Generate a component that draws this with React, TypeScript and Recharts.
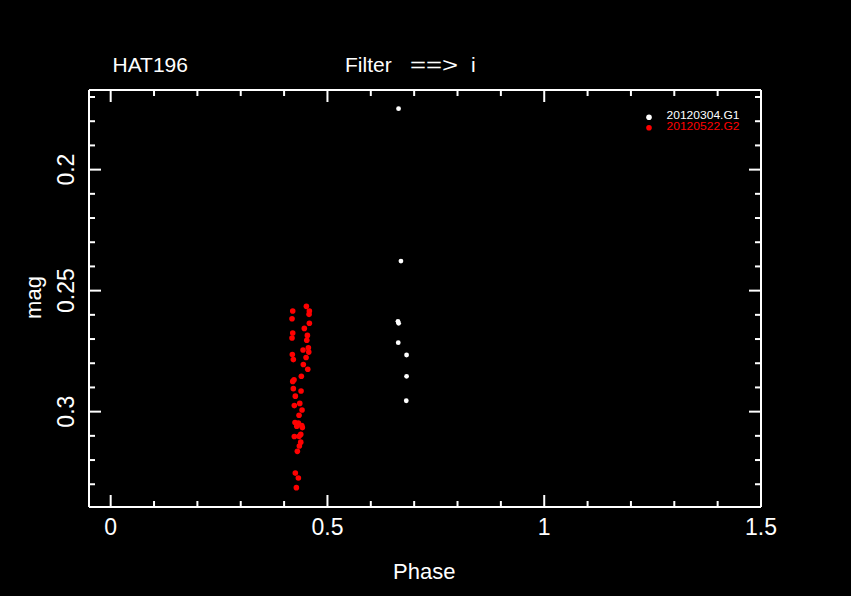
import { ScatterChart, Scatter, XAxis, YAxis, Legend } from "recharts";

// light curve points
const whitePhase = [0.664, 0.6695, 0.6626, 0.6642, 0.6633, 0.6825, 0.6825, 0.6818];
const whiteMag = [0.1748, 0.2378, 0.2627, 0.2635, 0.2715, 0.2766, 0.2854, 0.2955];

const redPhase = [
  0.4514, 0.4199, 0.4583, 0.4576, 0.4183, 0.4583, 0.4467, 0.4199, 0.4537, 0.4183,
  0.4523, 0.456, 0.4437, 0.4569, 0.419, 0.4507, 0.4213, 0.4444, 0.4546, 0.4398,
  0.4229, 0.4199, 0.4213, 0.4391, 0.4259, 0.4361, 0.4236, 0.4414, 0.4345, 0.4252,
  0.4329, 0.4292, 0.4407, 0.4421, 0.4384, 0.4236, 0.4345, 0.4384, 0.4352, 0.4306,
  0.4259, 0.4329, 0.4283,
];
const redMag = [
  0.2565, 0.2584, 0.2584, 0.2598, 0.2616, 0.2635, 0.2656, 0.2675, 0.2685, 0.2696,
  0.2705, 0.2736, 0.2745, 0.2754, 0.2764, 0.2776, 0.2785, 0.2805, 0.2825, 0.2854,
  0.2868, 0.2875, 0.2905, 0.2915, 0.2936, 0.2966, 0.2975, 0.2993, 0.3015, 0.3045,
  0.3047, 0.306, 0.3057, 0.3066, 0.3094, 0.3103, 0.3102, 0.3126, 0.3142, 0.3164,
  0.3254, 0.3274, 0.3314,
];

const xTicks = [0, 0.1, 0.2, 0.3, 0.4, 0.5, 0.6, 0.7, 0.8, 0.9, 1, 1.1, 1.2, 1.3, 1.4, 1.5];
const yTicks = [
  0.17, 0.18, 0.19, 0.2, 0.21, 0.22, 0.23, 0.24, 0.25, 0.26, 0.27, 0.28, 0.29, 0.3, 0.31,
  0.32, 0.33,
];
const seriesNames = ["20120304.G1", "20120522.G2"];
const seriesColors = ["#ffffff", "#ff0000"];

const whiteData = whitePhase.map((x, i) => ({ x, y: whiteMag[i] }));
const redData = redPhase.map((x, i) => ({ x, y: redMag[i] }));

const FONT = "'Liberation Sans', Arial, sans-serif";

const isMajorX = (v: number) => Math.abs(v * 2 - Math.round(v * 2)) < 1e-6;
const isMajorY = (v: number) => Math.abs(v * 20 - Math.round(v * 20)) < 1e-6;

function BottomTick({ x, y, payload }: any) {
  const major = isMajorX(payload.value);
  return (
    <g>
      <line x1={x} x2={x} y1={y} y2={y - (major ? 12 : 6)} stroke="#fff" strokeWidth={2} />
      {major && (
        <text x={x} y={y + 28} fill="#fff" fontSize={23} fontFamily={FONT} textAnchor="middle">
          {String(payload.value)}
        </text>
      )}
    </g>
  );
}

function TopTick({ x, y, payload }: any) {
  const major = isMajorX(payload.value);
  return <line x1={x} x2={x} y1={y} y2={y + (major ? 12 : 6)} stroke="#fff" strokeWidth={2} />;
}

function LeftTick({ x, y, payload }: any) {
  const major = isMajorY(payload.value);
  const lx = x - 14.5;
  return (
    <g>
      <line x1={x} x2={x + (major ? 12 : 6)} y1={y} y2={y} stroke="#fff" strokeWidth={2} />
      {major && (
        <text
          x={lx}
          y={y}
          fill="#fff"
          fontSize={23}
          fontFamily={FONT}
          textAnchor="middle"
          transform={`rotate(-90, ${lx}, ${y})`}
        >
          {String(payload.value)}
        </text>
      )}
    </g>
  );
}

function RightTick({ x, y, payload }: any) {
  const major = isMajorY(payload.value);
  return <line x1={x} x2={x - (major ? 12 : 6)} y1={y} y2={y} stroke="#fff" strokeWidth={2} />;
}

const dot = (color: string, r: number) => (props: any) =>
  <circle cx={props.cx} cy={props.cy} r={r} fill={color} />;

function LegendBox() {
  return (
    <svg width={120} height={28}>
      {seriesNames.map((name, i) => (
        <g key={name}>
          <circle cx={9} cy={9.3 + i * 10.4} r={2.8} fill={seriesColors[i]} />
          <text
            x={26.5}
            y={10.6 + i * 11}
            fill={seriesColors[i]}
            fontSize={10}
            fontFamily={FONT}
            textLength={73}
            lengthAdjust="spacingAndGlyphs"
          >
            {name}
          </text>
        </g>
      ))}
    </svg>
  );
}

export default function App() {
  const axisLine = { stroke: "#fff", strokeWidth: 2 };
  return (
    <div style={{ position: "fixed", inset: 0, background: "#000" }}>
      <div style={{ position: "absolute", left: 0, top: 0, width: 851, height: 596 }}>
        <ScatterChart width={851} height={596} margin={{ top: 50, right: 50, bottom: 49, left: 49 }}>
          <XAxis
            xAxisId="b"
            type="number"
            dataKey="x"
            orientation="bottom"
            height={40}
            domain={[-0.05, 1.5]}
            allowDataOverflow
            ticks={xTicks}
            interval={0}
            tickSize={0}
            tickMargin={0}
            tickLine={false}
            axisLine={axisLine}
            tick={<BottomTick />}
          />
          <XAxis
            xAxisId="t"
            type="number"
            dataKey="x"
            orientation="top"
            height={40}
            domain={[-0.05, 1.5]}
            allowDataOverflow
            ticks={xTicks}
            interval={0}
            tickSize={0}
            tickMargin={0}
            tickLine={false}
            axisLine={axisLine}
            tick={<TopTick />}
          />
          <YAxis
            yAxisId="l"
            type="number"
            dataKey="y"
            orientation="left"
            width={40}
            reversed
            domain={[0.1671, 0.3394]}
            allowDataOverflow
            ticks={yTicks}
            interval={0}
            tickSize={0}
            tickMargin={0}
            tickLine={false}
            axisLine={axisLine}
            tick={<LeftTick />}
          />
          <YAxis
            yAxisId="r"
            type="number"
            dataKey="y"
            orientation="right"
            width={40}
            reversed
            domain={[0.1671, 0.3394]}
            allowDataOverflow
            ticks={yTicks}
            interval={0}
            tickSize={0}
            tickMargin={0}
            tickLine={false}
            axisLine={axisLine}
            tick={<RightTick />}
          />
          <Scatter
            name={seriesNames[1]}
            data={redData}
            xAxisId="b"
            yAxisId="l"
            fill={seriesColors[1]}
            shape={dot(seriesColors[1], 2.8)}
            isAnimationActive={false}
          />
          <Scatter
            name={seriesNames[0]}
            data={whiteData}
            xAxisId="t"
            yAxisId="r"
            fill={seriesColors[0]}
            shape={dot(seriesColors[0], 2.4)}
            isAnimationActive={false}
          />
          <Legend
            layout="vertical"
            align="center"
            verticalAlign="middle"
            wrapperStyle={{ left: 640, top: 108, width: 120, height: 28 }}
            content={<LegendBox />}
          />
        </ScatterChart>
        <svg
          width={851}
          height={596}
          style={{ position: "absolute", left: 0, top: 0, pointerEvents: "none" }}
          fontFamily={FONT}
          fill="#fff"
        >
          <text x={112.5} y={71.7} fontSize={21}>HAT196</text>
          <text y={71.7} fontSize={21}>
            <tspan x={345}>Filter</tspan>{" "}
            <tspan x={410} textLength={48} lengthAdjust="spacingAndGlyphs">==&gt;</tspan>{" "}
            <tspan x={471}>i</tspan>
          </text>
          <text x={393} y={579.3} fontSize={22}>Phase</text>
          <text x={41} y={297.5} fontSize={22} textAnchor="middle" transform="rotate(-90, 41, 297.5)">
            mag
          </text>
        </svg>
      </div>
    </div>
  );
}
